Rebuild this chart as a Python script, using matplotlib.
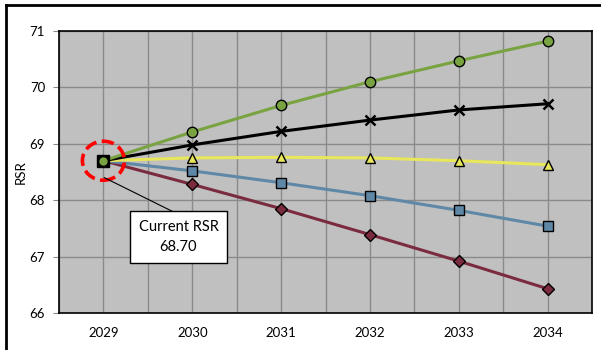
import matplotlib.pyplot as plt
import matplotlib.patches as mpatches
from matplotlib.lines import Line2D
import numpy as np

plt.rcParams['font.family'] = ['Lato', 'DejaVu Sans']

years = ['2029', '2030', '2031', '2032', '2033', '2034']
current_rsr = 68.70

# RSR projections per scenario
rsr_high = [68.70, 69.21, 69.68, 70.10, 70.47, 70.82]
rsr_upper = [68.70, 68.98, 69.22, 69.42, 69.60, 69.71]
rsr_flat = [68.70, 68.75, 68.76, 68.75, 68.70, 68.63]
rsr_lower = [68.70, 68.52, 68.31, 68.08, 67.82, 67.54]
rsr_low = [68.70, 68.28, 67.85, 67.39, 66.92, 66.43]

series = [
    (rsr_low, '#7b2b3e', 'D', 6.0),
    (rsr_lower, '#5f88a6', 's', 6.5),
    (rsr_flat, '#e8e65a', '^', 7.5),
    (rsr_upper, '#000000', 'x', 7.0),
    (rsr_high, '#79a340', 'o', 7.5),
]

fig = plt.figure(figsize=(6.01, 3.5), dpi=100)
ax = fig.add_axes([59 / 601, 37 / 350, 533 / 601, 282 / 350])
ax.set_facecolor('#c0c0c0')

x = np.arange(len(years))
for vals, color, marker, ms in series:
    if marker == 'x':
        ax.plot(x, vals, color=color, lw=2.2, marker='x', ms=ms,
                mew=1.8, zorder=3)
    else:
        ax.plot(x, vals, color=color, lw=2.2, marker=marker, ms=ms,
                mfc=color, mec='black', mew=1.0, zorder=3)

# starting point of every scenario
ax.plot([0], [current_rsr], marker='s', ms=8, mfc='black', mec='black',
        zorder=4)
ax.plot([0], [current_rsr], marker='o', ms=7, mfc='#79a340', mec='black',
        mew=1.0, zorder=5)

ax.set_xlim(-0.5, 5.5)
ax.set_ylim(66, 71)
ax.set_xticks(x)
ax.set_xticklabels(years)
ax.set_xticks(np.arange(-0.5, 5.6, 0.5), minor=True)
ax.set_yticks(np.arange(66, 71.1, 1))
ax.grid(True, which='both', axis='x', color='#8a8a8a', lw=1.0, zorder=1)
ax.grid(True, which='major', axis='y', color='#8a8a8a', lw=1.0, zorder=1)
ax.tick_params(axis='x', which='both', length=0, pad=10, labelsize=9.5)
ax.tick_params(axis='y', length=4, color='#8a8a8a', pad=6, labelsize=9.5)
for s in ax.spines.values():
    s.set_color('black')
    s.set_linewidth(1.2)
ax.set_ylabel('RSR', fontsize=9.5)
ax.yaxis.set_label_coords(-0.06, 0.5)
ax.set_axisbelow(True)

# dashed ring around the current value
ring = mpatches.Ellipse((0, current_rsr), 42 / 88.8, 39 / 56.4, fill=False,
                        ec='#ff0000', lw=2.6, ls=(0, (3.4, 1.5)), zorder=6)
ax.add_patch(ring)

# callout with its leader line
ax.plot([0.01, 0.83], [68.40, 67.76], color='black', lw=0.8, zorder=6)
ax.text(0.845, 67.35, 'Current RSR\n68.70', ha='center', va='center',
        fontsize=10.5, linespacing=1.55, zorder=7,
        bbox=dict(boxstyle='square,pad=0.6', fc='white', ec='black', lw=1.0))

# outer frame of the chart area
fig.add_artist(Line2D([6 / 601, 6 / 601], [-0.1, 345 / 350], color='black',
                      lw=2.0, transform=fig.transFigure))
fig.add_artist(Line2D([6 / 601, 1.1], [345 / 350, 345 / 350], color='black',
                      lw=2.0, transform=fig.transFigure))

fig.savefig('out.png', dpi=100)
